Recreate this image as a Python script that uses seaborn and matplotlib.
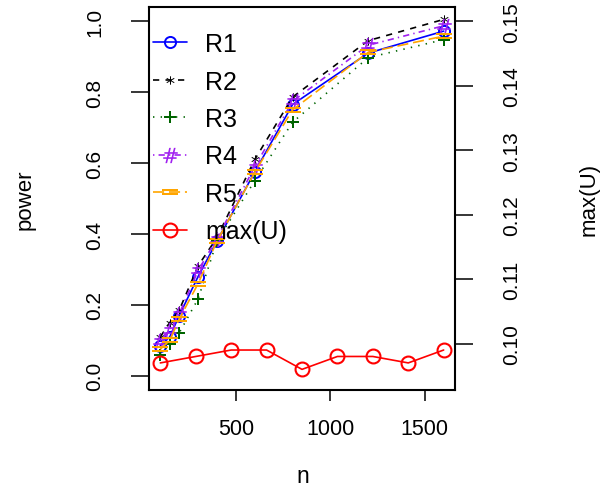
import matplotlib
matplotlib.use("Agg")
import matplotlib.pyplot as plt
import seaborn as sns

# power curves
n = [100, 150, 200, 300, 400, 600, 800, 1200, 1600]
r1 = [0.085, 0.11, 0.17, 0.28, 0.38, 0.575, 0.765, 0.91, 0.972]
r2 = [0.11, 0.15, 0.185, 0.31, 0.39, 0.61, 0.786, 0.945, 1.005]
r3 = [0.06, 0.09, 0.121, 0.217, 0.38, 0.55, 0.715, 0.897, 0.948]
r4 = [0.097, 0.13, 0.175, 0.297, 0.387, 0.59, 0.774, 0.932, 0.987]
r5 = [0.075, 0.10, 0.16, 0.26, 0.38, 0.574, 0.75, 0.912, 0.958]

# max(U) is drawn on its own axes against its index
u_index = [1, 2, 3, 4, 5, 6, 7, 8, 9]
max_u = [0.097, 0.098, 0.099, 0.099, 0.096, 0.098, 0.098, 0.097, 0.099]

power_ticks = [0.0, 0.2, 0.4, 0.6, 0.8, 1.0]
power_labels = ["0.0", "0.2", "0.4", "0.6", "0.8", "1.0"]
u_ticks = [0.10, 0.11, 0.12, 0.13, 0.14, 0.15]
u_labels = ["0.10", "0.11", "0.12", "0.13", "0.14", "0.15"]
n_ticks = [500, 1000, 1500]

sns.set_theme(style="white")
plt.rcParams["font.family"] = ["Liberation Sans", "DejaVu Sans"]
plt.rcParams["lines.scale_dashes"] = False
for key in ["text.color", "axes.labelcolor", "xtick.color", "ytick.color", "axes.edgecolor"]:
    plt.rcParams[key] = "black"

fig = plt.figure(figsize=(6.12, 4.89), dpi=100)
ax = fig.add_axes([149 / 612, 1 - 391 / 489, 306 / 612, 383 / 489])

# name, values, colour, marker, marker size, line style
series = [
    ("R1", r1, "#0000FF", "o", 8, "-"),
    ("R2", r2, "black", "$*$", 6, (0, (4.5, 4.5))),
    ("R3", r3, "#006400", "$+$", 9, (0, (1, 4.5))),
    ("R4", r4, "#A020F0", "$\\#$", 11, (0, (1, 3, 4.5, 3))),
    ("R5", r5, "#FFA500", "$=$", 11, (0, (8, 3.5))),
]

handles = []
for name, vals, col, mk, ms, ls in series:
    if mk == "o":
        mstyle = dict(markerfacecolor="none", markeredgecolor=col, markeredgewidth=1.4)
    else:
        mstyle = dict(markerfacecolor=col, markeredgecolor=col, markeredgewidth=0)
    sns.lineplot(x=n, y=vals, ax=ax, color=col, linestyle=ls, linewidth=1.2,
                 marker=mk, markersize=ms, label=name, legend=False, **mstyle)
    handles.append(ax.lines[-1])

ax.set_xlim(40, 1660)
ax.set_ylim(-0.04, 1.04)
ax.set_xticks(n_ticks)
ax.set_xticklabels([str(t) for t in n_ticks], fontsize=15.5)
ax.set_yticks(power_ticks)
ax.set_yticklabels(power_labels, fontsize=15, rotation=90, va="center")
ax.tick_params(axis="y", length=13, width=1.1, pad=19, left=True)
ax.tick_params(axis="x", length=8, width=1.1, pad=12, bottom=True)
for sp in ax.spines.values():
    sp.set_linewidth(1.5)

ax.set_xlabel("n", fontsize=16.5, va="center")
ax.xaxis.set_label_coords(0.502, -0.2245)
ax.set_ylabel("power", fontsize=16, va="center")
ax.yaxis.set_label_coords(-0.405, 0.5)

# second axes for max(U)
ax2 = fig.add_axes(ax.get_position(), facecolor="none")
sns.lineplot(x=u_index, y=max_u, ax=ax2, color="#FF0000", linewidth=1.2,
             marker="o", markersize=10, markerfacecolor="none",
             markeredgecolor="#FF0000", markeredgewidth=1.5, label="max(U)", legend=False)
handles.append(ax2.lines[-1])
ax2.set_xlim(0.68, 9.32)
ax2.set_ylim(0.0928, 0.1522)
ax2.set_xticks([])
ax2.yaxis.tick_right()
ax2.yaxis.set_label_position("right")
ax2.set_yticks(u_ticks)
ax2.set_yticklabels(u_labels, fontsize=15, rotation=90, va="center")
ax2.tick_params(axis="y", length=13, width=1.1, pad=21, right=True)
for sp in ax2.spines.values():
    sp.set_visible(False)
ax2.set_ylabel("max(U)", fontsize=16, va="center")
ax2.yaxis.set_label_coords(1.438, 0.5)

ax2.legend(handles=handles, labels=[h.get_label() for h in handles],
           loc="upper left", bbox_to_anchor=(153 / 612, 1 - 33 / 489),
           bbox_transform=fig.transFigure, frameon=False, fontsize=18,
           borderpad=0, borderaxespad=0, handlelength=1.36,
           handletextpad=0.72, labelspacing=0.54, numpoints=1)

fig.savefig("out.png", dpi=100)
